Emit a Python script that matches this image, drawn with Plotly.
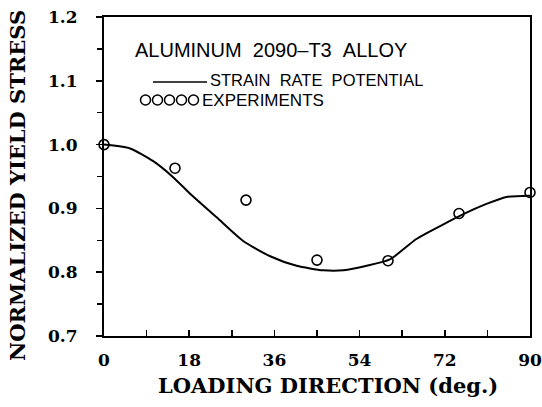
import plotly.graph_objects as go

# ---- data ----
curve_angle = [0, 5.5, 10.4, 14.6, 18.2, 23.8, 29.4, 35.1, 40.7, 46.3, 50.6, 55.5, 60.4, 66.0, 71.7, 75.9, 80.8, 85.0, 90]
curve_stress = [1.000, 0.994, 0.974, 0.949, 0.923, 0.886, 0.849, 0.825, 0.810, 0.803, 0.803, 0.810, 0.820, 0.852, 0.875, 0.891, 0.907, 0.918, 0.920]
exp_angle = [0, 15, 30, 45, 60, 75, 90]
exp_stress = [1.000, 0.963, 0.913, 0.819, 0.818, 0.892, 0.925]
x_ticks = [0, 18, 36, 54, 72, 90]
y_ticks = [0.7, 0.8, 0.9, 1.0, 1.1, 1.2]
x_title = "LOADING DIRECTION (deg.)"
y_title = "NORMALIZED YIELD STRESS"

W, H = 542, 407
L, T = 104, 17
R = W - 530
B = H - 336
PW, PH = W - L - R, H - T - B

def px(x):  # page pixel -> paper
    return (x - L) / PW

def py(y):
    return (H - B - y) / PH

fig = go.Figure()
fig.add_trace(go.Scatter(x=curve_angle, y=curve_stress, mode="lines",
                         line=dict(color="black", width=2, shape="spline", smoothing=0.6),
                         showlegend=False, cliponaxis=False, hoverinfo="skip"))
fig.add_trace(go.Scatter(x=exp_angle, y=exp_stress, mode="markers",
                         marker=dict(symbol="circle-open", size=10, color="black",
                                     line=dict(width=1.6, color="black")),
                         showlegend=False, cliponaxis=False, hoverinfo="skip"))

serif = "DejaVu Serif"
sans = "Liberation Sans"

fig.update_layout(
    width=W, height=H,
    margin=dict(l=L, r=R, t=T, b=B, autoexpand=False),
    paper_bgcolor="white", plot_bgcolor="white",
    xaxis=dict(range=[0, 90], tickvals=x_ticks, ticks="inside", ticklen=6, tickwidth=1.5,
               minor=dict(dtick=9, tick0=0, ticks="inside", ticklen=6, tickwidth=1.5, tickcolor="black"),
               tickcolor="black", showline=True, linecolor="black", linewidth=2, mirror=True,
               showgrid=False, zeroline=False, ticklabelstandoff=8, automargin=False,
               ticklabeloverflow="allow",
               tickfont=dict(family=serif, size=17, color="black", weight="bold")),
    yaxis=dict(range=[0.7, 1.2], tickvals=y_ticks, tickformat=".1f", ticks="outside", ticklen=6,
               tickwidth=1.5, tickcolor="black",
               minor=dict(dtick=0.05, tick0=0.7, ticks="outside", ticklen=5, tickwidth=1.5, tickcolor="black"),
               showline=True, linecolor="black", linewidth=2, mirror=True,
               showgrid=False, zeroline=False, ticklabelstandoff=15, automargin=False,
               ticklabeloverflow="allow",
               tickfont=dict(family=serif, size=17, color="black", weight="bold")),
)

# axis titles
fig.add_annotation(x=px(328), y=py(385), xref="paper", yref="paper", xanchor="center", yanchor="middle",
                   text=x_title, showarrow=False,
                   font=dict(family=serif, size=21, color="black", weight="bold"))
fig.add_annotation(x=px(17), y=py(186), xref="paper", yref="paper", xanchor="center", yanchor="middle",
                   text=y_title, showarrow=False, textangle=-90,
                   font=dict(family=serif, size=21, color="black", weight="bold"))

# in-plot legend / label
fig.add_annotation(x=px(133), y=py(50), xref="paper", yref="paper", xanchor="left", yanchor="middle",
                   text="ALUMINUM\u00a0\u00a02090\u2013T3\u00a0\u00a0ALLOY", showarrow=False,
                   font=dict(family=sans, size=20, color="black"))
fig.add_shape(type="line", xref="paper", yref="paper", x0=px(153), x1=px(207), y0=py(82), y1=py(82),
              line=dict(color="black", width=1.5))
fig.add_annotation(x=px(208), y=py(80), xref="paper", yref="paper", xanchor="left", yanchor="middle",
                   text="STRAIN\u00a0\u00a0RATE\u00a0\u00a0POTENTIAL", showarrow=False,
                   font=dict(family=sans, size=16.5, color="black"))
for cx in [145.5, 157.5, 169.5, 181.5, 193.5]:
    fig.add_shape(type="circle", xref="paper", yref="paper",
                  x0=px(cx - 5), x1=px(cx + 5), y0=py(105), y1=py(95),
                  line=dict(color="black", width=1.5))
fig.add_annotation(x=px(200), y=py(100), xref="paper", yref="paper", xanchor="left", yanchor="middle",
                   text="EXPERIMENTS", showarrow=False,
                   font=dict(family=sans, size=17, color="black"))

fig.write_html("out.html", config={"displayModeBar": False, "staticPlot": True},
               post_script="document.body.style.margin='0';document.body.style.overflow='hidden';")
